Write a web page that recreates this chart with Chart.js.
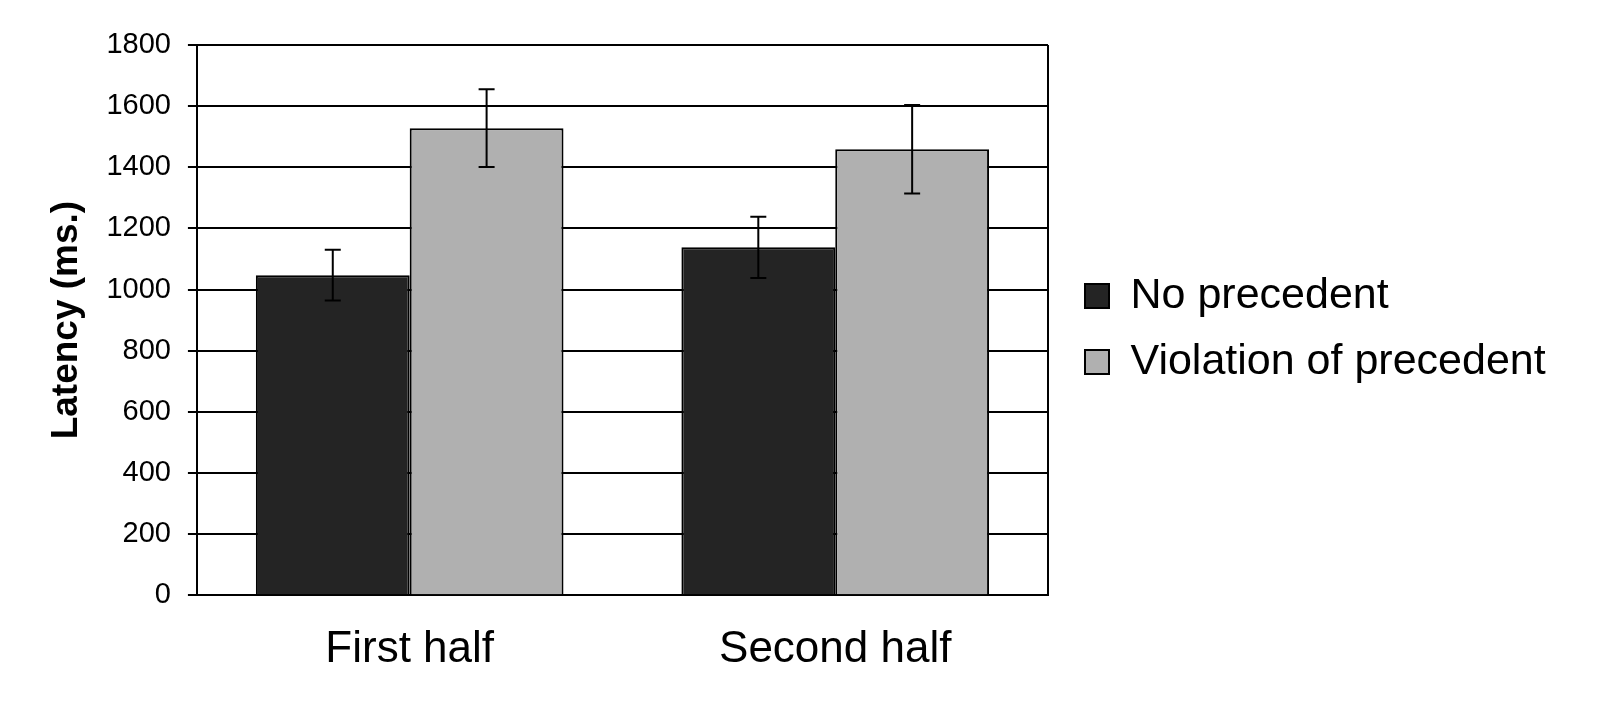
<!DOCTYPE html>
<html>
<head>
<meta charset="utf-8">
<script src="https://cdn.jsdelivr.net/npm/chart.js@4/dist/chart.umd.min.js"></script>
<style>
  html, body { margin: 0; padding: 0; background: #fff; }
  #wrap { width: 1600px; height: 707px; position: relative; }
</style>
</head>
<body>
<div id="wrap"><canvas id="myChart"></canvas></div>
<script>
// values
const categories = ['First half', 'Second half'];
const noPrecedent = [1047, 1138];
const violation = [1528, 1459];
const noPrecedentErr = [83, 100];
const violationErr = [127, 145];
const seriesNames = ['No precedent', 'Violation of precedent'];
const yTicks = [0, 200, 400, 600, 800, 1000, 1200, 1400, 1600, 1800];

const FONT = '"Liberation Sans", Arial, sans-serif';

// error bars + frame on the right side of the plot
const errorBars = {
  id: 'errorBars',
  afterDatasetsDraw(chart) {
    const ctx = chart.ctx, y = chart.scales.y;
    const errs = [noPrecedentErr, violationErr];
    ctx.save();
    ctx.strokeStyle = '#000';
    ctx.lineWidth = 2;
    chart.data.datasets.forEach((ds, i) => {
      chart.getDatasetMeta(i).data.forEach((bar, j) => {
        const v = ds.data[j], e = errs[i][j];
        const top = y.getPixelForValue(v + e), bot = y.getPixelForValue(v - e);
        ctx.beginPath();
        ctx.moveTo(bar.x, top); ctx.lineTo(bar.x, bot);
        ctx.moveTo(bar.x - 8, top); ctx.lineTo(bar.x + 8, top);
        ctx.moveTo(bar.x - 8, bot); ctx.lineTo(bar.x + 8, bot);
        ctx.stroke();
      });
    });
    const a = chart.chartArea;
    ctx.beginPath();
    ctx.moveTo(a.right, a.top); ctx.lineTo(a.right, a.bottom);
    ctx.stroke();
    ctx.restore();
  }
};

// nudge the legend a little away from the plot, a bit below its middle
const legendNudge = {
  id: 'legendNudge',
  afterLayout(chart) {
    const lg = chart.legend, a = chart.chartArea;
    lg.left += 14; lg.right += 14;
    lg.top = a.top + 9; lg.bottom = a.bottom + 9;
  }
};

new Chart(document.querySelector('#myChart'), {
  type: 'bar',
  data: {
    labels: categories,
    datasets: [
      {
        label: seriesNames[0],
        data: noPrecedent,
        backgroundColor: '#242424',
        borderColor: '#000',
        borderWidth: 2
      },
      {
        label: seriesNames[1],
        data: violation,
        backgroundColor: '#b0b0b0',
        borderColor: '#000',
        borderWidth: 2
      }
    ]
  },
  plugins: [errorBars, legendNudge],
  options: {
    responsive: true,
    maintainAspectRatio: false,
    devicePixelRatio: 1,
    animation: false,
    layout: { padding: { left: 45, right: 62, top: 45, bottom: 11 } },
    datasets: { bar: { categoryPercentage: 0.723, barPercentage: 1 } },
    plugins: {
      tooltip: { enabled: false },
      legend: {
        position: 'right',
        maxWidth: 490,
        labels: {
          boxWidth: 24,
          boxHeight: 24,
          padding: 23,
          color: '#000',
          font: { family: FONT, size: 43 }
        }
      }
    },
    scales: {
      x: {
        grid: { display: false },
        border: { display: true, color: '#000', width: 2 },
        ticks: { color: '#000', padding: 20, font: { family: FONT, size: 44 } }
      },
      y: {
        min: 0,
        max: 1800,
        afterBuildTicks: axis => { axis.ticks = yTicks.map(v => ({ value: v })); },
        grid: { color: '#000', lineWidth: 2, tickLength: 9 },
        border: { display: true, color: '#000', width: 2 },
        ticks: { color: '#000', padding: 17, font: { family: FONT, size: 29 }, callback: v => String(v) },
        title: {
          display: true,
          text: 'Latency (ms.)',
          color: '#000',
          padding: { top: 0, bottom: 0 },
          font: { family: FONT, size: 37, weight: 'bold' }
        }
      }
    }
  }
});
</script>
</body>
</html>
